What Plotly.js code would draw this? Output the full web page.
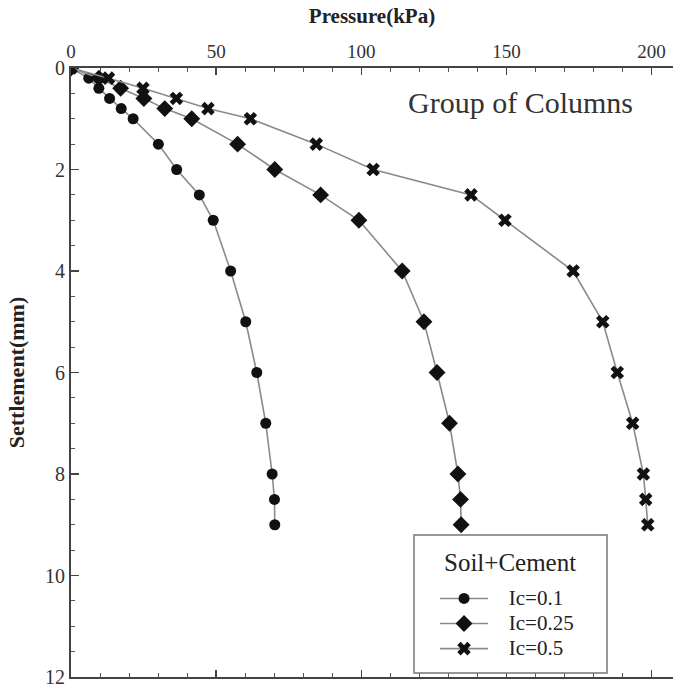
<!DOCTYPE html>
<html>
<head>
<meta charset="utf-8">
<script src="https://cdn.plot.ly/plotly-3.0.1.min.js"></script>
<style>html,body{margin:0;padding:0;background:#fff;}#chart{width:677px;height:689px;}</style>
</head>
<body>
<div id="chart"></div>
<script>
// Settlement (mm) levels
const settlement = [0, 0.2, 0.4, 0.6, 0.8, 1.0, 1.5, 2, 2.5, 3, 4, 5, 6, 7, 8, 8.5, 9];
// Pressure (kPa) for each series
const pressureIc01  = [0, 6.1, 9.6, 13.3, 17.3, 21.4, 30.1, 36.4, 44.2, 49.0, 55.0, 60.2, 64.0, 67.1, 69.3, 70.1, 70.2];
const pressureIc025 = [0, 9.6, 17.1, 25.1, 32.3, 41.6, 57.4, 70.2, 86.0, 99.2, 114.1, 121.6, 126.1, 130.4, 133.3, 134.2, 134.4];
const pressureIc05  = [0, 12.9, 24.8, 36.3, 47.2, 61.8, 84.5, 104.1, 137.8, 149.5, 173.0, 183.2, 188.2, 193.5, 197.2, 198.0, 198.7];
const seriesNames = ['Ic=0.1', 'Ic=0.25', 'Ic=0.5'];
const legendTitle = 'Soil+Cement';
const xTickVals = [0, 50, 100, 150, 200];
const yTickVals = [0, 2, 4, 6, 8, 10, 12];

const serif = "'Liberation Serif', 'Times New Roman', serif";
const lineCol = '#8a8a8a';
const markCol = '#111111';
const pad = '\u00a0\u00a0\u00a0';

function mk(x, name, symbol, size) {
  return {
    x: x, y: settlement, name: '<span style="font-size:21px">' + pad + name + '</span>',
    type: 'scatter', mode: 'lines+markers',
    line: {color: lineCol, width: 1.6},
    marker: {symbol: symbol, size: size, color: markCol, line: {width: 0}}
  };
}
const traces = [
  mk(pressureIc01, seriesNames[0], 'circle', 11),
  mk(pressureIc025, seriesNames[1], 'diamond', 13),
  mk(pressureIc05, seriesNames[2], 'x', 12)
];

const layout = {
  width: 677, height: 689,
  margin: {l: 71, r: 4, t: 68, b: 12, pad: 0},
  paper_bgcolor: '#fff', plot_bgcolor: '#fff',
  font: {family: serif, color: '#333', size: 19},
  showlegend: true,
  xaxis: {
    side: 'top', range: [0, 207.4], tickvals: xTickVals, ticktext: xTickVals.map(String),
    ticks: 'inside', ticklen: 7, tickwidth: 1.5, tickcolor: '#444',
    minor: {dtick: 10, ticks: 'inside', ticklen: 4, tickwidth: 1, tickcolor: '#555'},
    showline: true, linecolor: '#444', linewidth: 2, mirror: 'allticks',
    showgrid: false, zeroline: false,
    tickfont: {family: serif, size: 19, color: '#333'},
    title: {text: '<b>Pressure(kPa)</b>', font: {family: serif, size: 21, color: '#222'}, standoff: 12}
  },
  yaxis: {
    range: [12, 0], tickvals: yTickVals, ticktext: yTickVals.map(String),
    ticks: 'inside', ticklen: 8, tickwidth: 1.5, tickcolor: '#444',
    minor: {dtick: 0.5, ticks: 'inside', ticklen: 4, tickwidth: 1, tickcolor: '#555'},
    showline: true, linecolor: '#444', linewidth: 2,
    showgrid: false, zeroline: false,
    tickfont: {family: serif, size: 20, color: '#333'},
    title: {text: '<b>Settlement(mm)</b>', font: {family: serif, size: 22, color: '#222'}, standoff: 14}
  },
  legend: {
    x: 0.6047, y: 0.1578, xanchor: 'left', yanchor: 'top',
    bgcolor: 'rgba(0,0,0,0)', borderwidth: 0,
    font: {family: serif, size: 17, color: '#222'},
    itemwidth: 48
  },
  shapes: [{
    type: 'rect', xref: 'paper', yref: 'paper',
    x0: 0.5698, x1: 0.8904, y0: 0.0066, y1: 0.2332,
    fillcolor: '#fff', line: {color: '#777', width: 1.5}, layer: 'above'
  }],
  annotations: [{
    text: 'Group of Columns', xref: 'paper', yref: 'paper', x: 0.937, y: 0.943,
    xanchor: 'right', yanchor: 'middle', showarrow: false,
    font: {family: serif, size: 30, color: '#333'}
  }, {
    text: legendTitle, xref: 'paper', yref: 'paper', x: 0.729, y: 0.1887,
    xanchor: 'center', yanchor: 'middle', showarrow: false,
    font: {family: serif, size: 25, color: '#222'}
  }]
};

Plotly.newPlot('chart', traces, layout, {displayModeBar: false, staticPlot: true});
</script>
</body>
</html>
